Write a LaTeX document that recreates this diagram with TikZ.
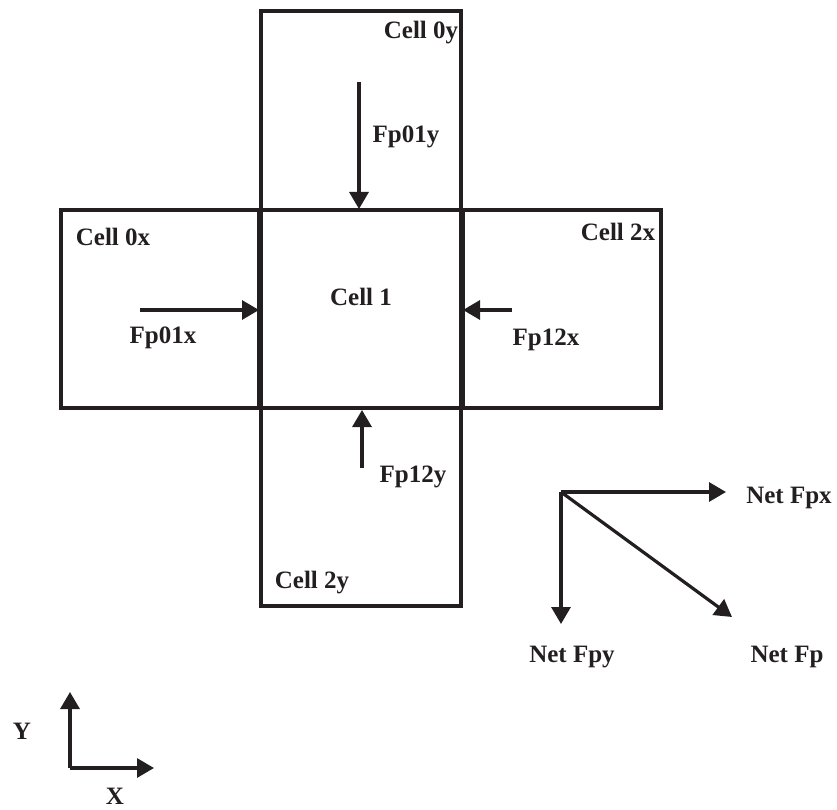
\documentclass[tikz,border=0pt]{standalone}
\usepackage{fontspec}
\setmainfont{Liberation Serif}
\usetikzlibrary{arrows.meta}
\definecolor{ink}{HTML}{231F20}
\begin{document}
\begin{tikzpicture}[x=1pt,y=-1pt,
  cell/.style={draw=ink,line width=3.2pt,rectangle,inner sep=0pt,minimum width=200pt},
  lbl/.style={inner sep=0pt,text=ink,font=\fontsize{25}{29}\selectfont\bfseries},
  force/.style={draw=ink,line width=3.2pt,-{Triangle[length=17pt,width=19pt]}}]
\useasboundingbox (0,0) rectangle (837,810);
% cells
\node[cell,minimum height=199pt] (c0y) at (361,110.5) {};
\node[cell,minimum height=198pt] (c0x) at (161,309) {};
\node[cell,minimum height=198pt] (c2x) at (561,309) {};
\node[cell,minimum height=198pt] (c2y) at (361,507) {};
\node[cell,minimum height=198pt] (c1) at (361,309) {};
\draw[ink,line width=4.6pt] (c1.north west) -- (c1.south west);
\draw[ink,line width=4.6pt] (c1.north east) -- (c1.south east);
% cell labels
\node[lbl] (l0y) at (421,33) {Cell 0y};
\node[lbl] (l0x) at (113,237) {Cell 0x};
\node[lbl] (l2x) at (618,232) {Cell 2x};
\node[lbl] (l2y) at (312,583) {Cell 2y};
\node[lbl] (l1) at (361,297) {Cell 1};
% face forces
\coordinate (a0y) at (359,82);
\coordinate (b0y) at (359,209);
\draw[force] (a0y) -- (b0y);
\node[lbl] (f0y) at (406,137) {Fp01y};
\coordinate (a0x) at (140,310);
\coordinate (b0x) at (259,310);
\draw[force] (a0x) -- (b0x);
\node[lbl] (f0x) at (163,338) {Fp01x};
\coordinate (a2x) at (512,310);
\coordinate (b2x) at (463,310);
\draw[force] (a2x) -- (b2x);
\node[lbl] (f2x) at (546,340) {Fp12x};
\coordinate (a2y) at (362,468);
\coordinate (b2y) at (362,410);
\draw[force] (a2y) -- (b2y);
\node[lbl] (f2y) at (413,477) {Fp12y};
% net force
\coordinate (o) at (561,492);
\node[lbl] (nx) at (789,498) {Net Fpx};
\node[lbl] (ny) at (572,657) {Net Fpy};
\node[lbl] (np) at (787,657) {Net Fp};
\coordinate (tx) at (726,492);
\coordinate (ty) at (561,624);
\coordinate (tp) at (732,617);
\draw[force] (o) -- (tx);
\draw[force] (o) -- (ty);
\draw[force] (o) -- (tp);
% axes
\coordinate (ax) at (70,768);
\coordinate (axy) at (70,692);
\coordinate (axx) at (154,768);
\draw[force] (ax) -- (axy);
\draw[force] (ax) -- (axx);
\node[lbl] (ly) at (22,731) {Y};
\node[lbl] (lx) at (115,796) {X};
\end{tikzpicture}
\end{document}
